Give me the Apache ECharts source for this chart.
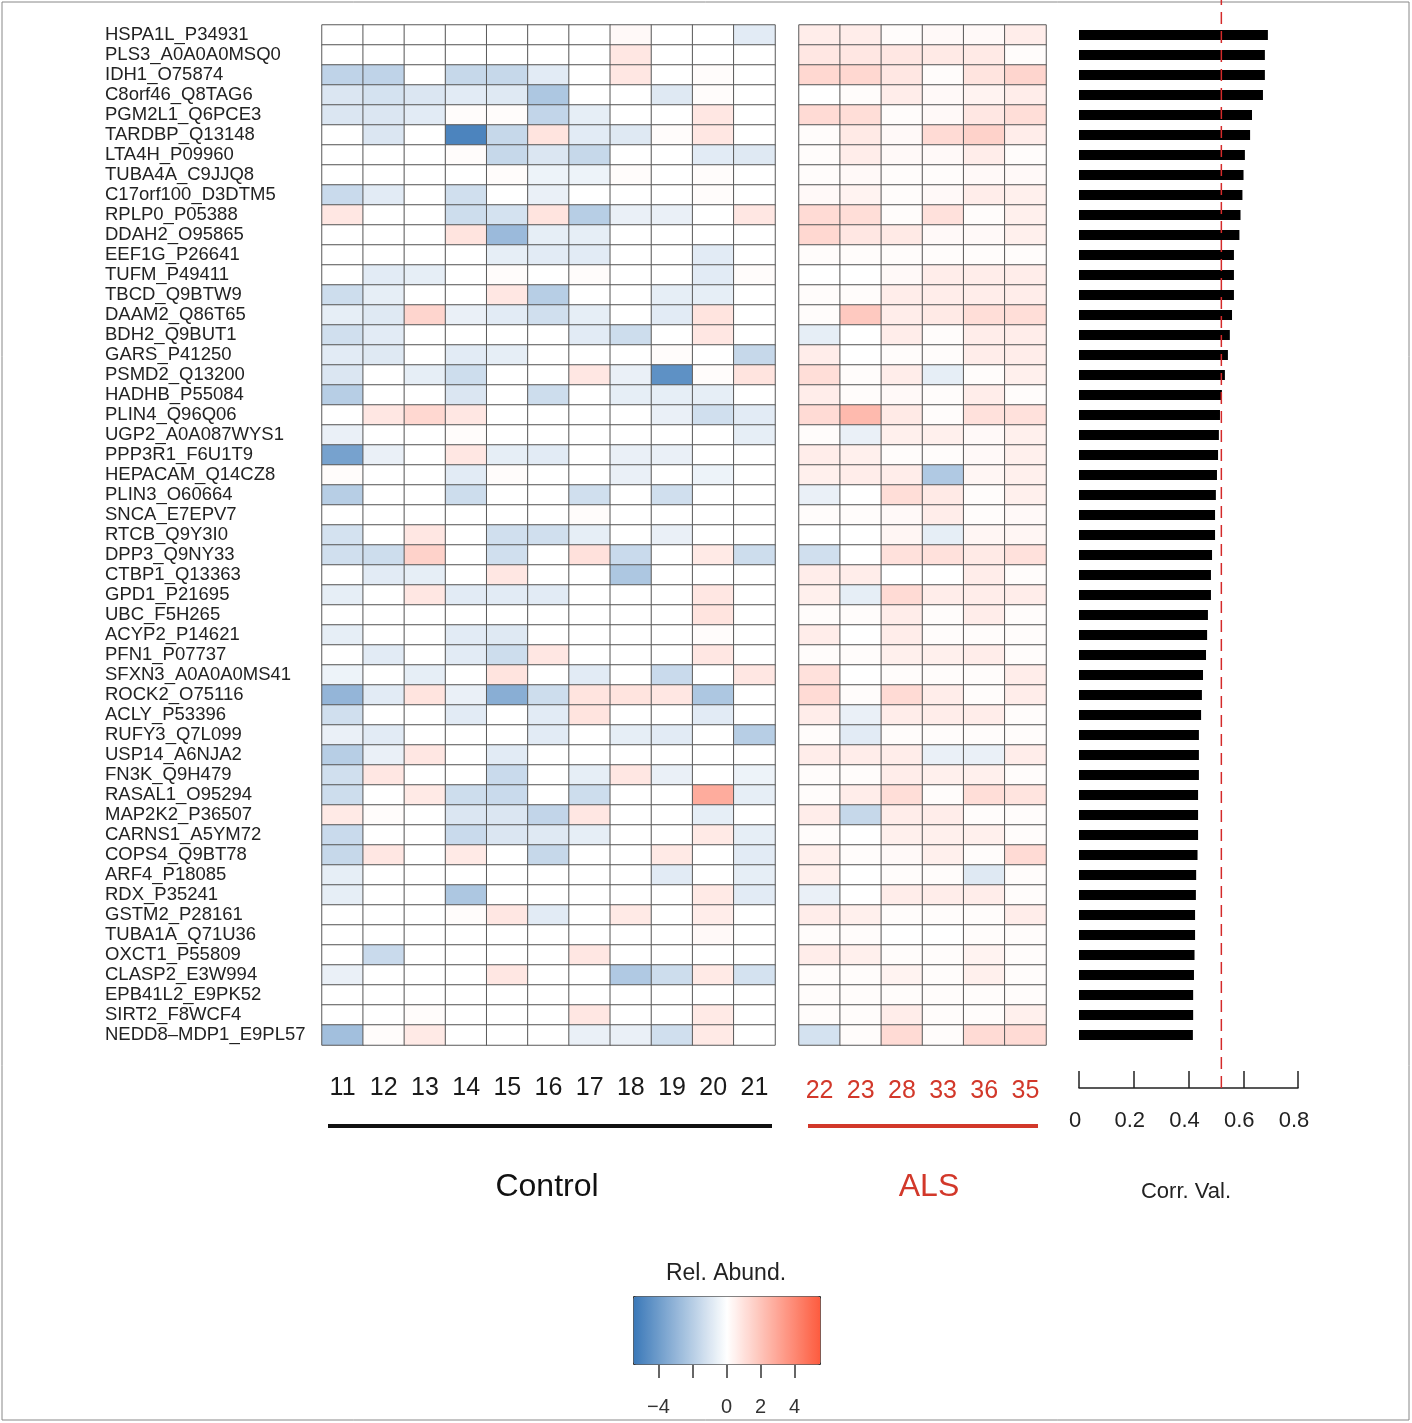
<!DOCTYPE html>
<html><head><meta charset="utf-8">
<script src="https://cdn.jsdelivr.net/npm/echarts@6/dist/echarts.min.js"></script>
<style>html,body{margin:0;padding:0;background:#fff}#c{width:1412px;height:1423px}</style>
</head><body><div id="c"></div><script>
const rowLabels = ['HSPA1L_P34931','PLS3_A0A0A0MSQ0','IDH1_O75874','C8orf46_Q8TAG6','PGM2L1_Q6PCE3','TARDBP_Q13148','LTA4H_P09960','TUBA4A_C9JJQ8','C17orf100_D3DTM5','RPLP0_P05388','DDAH2_O95865','EEF1G_P26641','TUFM_P49411','TBCD_Q9BTW9','DAAM2_Q86T65','BDH2_Q9BUT1','GARS_P41250','PSMD2_Q13200','HADHB_P55084','PLIN4_Q96Q06','UGP2_A0A087WYS1','PPP3R1_F6U1T9','HEPACAM_Q14CZ8','PLIN3_O60664','SNCA_E7EPV7','RTCB_Q9Y3I0','DPP3_Q9NY33','CTBP1_Q13363','GPD1_P21695','UBC_F5H265','ACYP2_P14621','PFN1_P07737','SFXN3_A0A0A0MS41','ROCK2_O75116','ACLY_P53396','RUFY3_Q7L099','USP14_A6NJA2','FN3K_Q9H479','RASAL1_O95294','MAP2K2_P36507','CARNS1_A5YM72','COPS4_Q9BT78','ARF4_P18085','RDX_P35241','GSTM2_P28161','TUBA1A_Q71U36','OXCT1_P55809','CLASP2_E3W994','EPB41L2_E9PK52','SIRT2_F8WCF4','NEDD8\u2013MDP1_E9PL57'];
const controlCols = ['11','12','13','14','15','16','17','18','19','20','21'];
const alsCols = ['22','23','28','33','36','35'];
const controlValues = [
[0,0,0,0,0,0,0,0.2,0,0,-0.8],
[0,0,0,0,0,0,0,0.8,0,0,0],
[-1.8,-1.8,0,-1.6,-1.6,-0.8,0,0.8,0,0.1,0],
[-1.0,-1.2,-1.0,-0.8,-0.9,-2.3,0,0,-0.9,0.1,0],
[-1.0,-1.0,-0.8,0.1,0.1,-1.7,-0.7,0,0,0.8,0],
[0,-1.0,0,-5.0,-1.6,0.9,-0.8,-0.9,0.1,0.8,0],
[0,0,0,0.1,-1.6,-1.0,-1.6,0,0,-0.8,-0.9],
[0,0,0,0,0.1,-0.5,-0.5,0.1,0,0.1,0],
[-1.5,-0.8,0,-1.3,0,-0.6,0,0,0,0.1,0],
[0.8,0,0,-1.4,-1.2,0.9,-2.0,-0.6,-0.6,0,0.8],
[0,0,0,0.9,-2.8,-0.7,-0.7,0,0,0,0],
[0,0,0,0,-0.7,-0.8,-0.8,0,0,-0.8,0],
[0,-0.8,-0.7,0,0.1,0,0.1,0,0,-0.8,0.1],
[-1.4,-0.7,0,0,0.8,-2.0,0,0,-0.7,-0.7,0],
[-0.7,-0.9,1.4,-0.6,-0.8,-1.3,-0.7,0,-0.8,0.9,0],
[-1.3,-0.8,0,0,0,0,-0.8,-1.4,0,0.8,0],
[-0.8,-0.9,0,-0.8,-0.7,0,0,0,0.1,0,-1.6],
[-1.0,0,-0.7,-1.4,0,0,0.8,-0.6,-4.5,0.1,0.9],
[-2.0,0,0,-1.0,0,-1.4,0,-0.7,-0.7,-0.7,0],
[0,0.8,1.3,0.8,0,0,0,0,-0.6,-1.3,-0.8],
[-0.6,0,0,0.1,0,0,0,0,0,0,-0.7],
[-3.8,-0.6,0,0.8,-0.7,-0.8,0,-0.6,-0.6,0,0],
[0.1,0,0,-0.8,0.1,0,0,-0.6,0,-0.5,0],
[-2.0,0,0,-1.4,0,0,-1.3,0,-1.3,0,0],
[0,0,0,0,0,0,0.1,0,0,0,0],
[-1.2,0,0.8,0,-1.3,-1.3,-0.7,0,-0.6,0,0],
[-1.3,-1.4,1.5,0,-1.3,0,1.0,-1.5,0,0.7,-1.4],
[0,-0.8,-0.7,0,0.8,0,0,-2.3,0,0,0],
[-0.7,0,0.8,-0.8,-0.8,-0.8,0,0,0,0.8,0],
[0,0,0,0,0,0,0,0,0,0.9,0],
[-0.7,0,0,-0.8,-0.9,0,0,0,0,0.1,0],
[0,-0.8,0,-0.8,-1.4,0.8,0,0,0,0.8,0],
[-0.5,0,-0.7,0,0.9,0,-0.8,0,-1.5,0,0.8],
[-3.0,-0.8,0.9,-0.6,-3.3,-1.4,0.9,0.9,0.8,-2.3,0],
[-1.3,0,0,-0.8,0,-0.8,0.9,0,0,-0.8,0],
[-0.6,-0.8,0,0,0,-0.8,0,-0.7,-0.8,0,-2.0],
[-2.0,-0.6,0.8,0,-0.8,0,0,0,0,0,0],
[-1.3,0.8,0,0,-1.5,0,-0.7,0.8,-0.6,0,-0.5],
[-1.4,0,0.7,-1.4,-1.5,0,-1.4,0,0,2.8,-0.7],
[0.7,0.1,0,-1.0,-1.0,-1.7,0.8,0,0,-0.7,0],
[-1.5,0,0,-1.5,-1.0,-0.9,-0.7,0,0,0.7,-0.7],
[-1.6,0.8,0,0.7,0,-1.6,0,0,0.7,0,-0.8],
[-0.7,0,0,0,0,0,0,0,-0.8,0,-0.7],
[-0.7,0,0,-2.3,0,0,0,0,0,0.7,-0.8],
[0,0,0,0.1,0.8,-0.8,0,0.7,0,0.6,0],
[0,0,0,0,0,0,0,0,0,0.2,0],
[0,-1.5,0,0,0,0,0.8,0,0,0,0],
[-0.6,0,0,0,0.8,0,0,-2.2,-1.4,0.7,-1.2],
[0,0,0,0,0,0,0,0,0,0,0],
[0,0,0.1,0,0,0,0.8,0,0,0.7,0],
[-2.6,0.1,0.7,0,0,0,-0.6,-0.6,-1.3,0.7,0]
];
const alsValues = [
[0.6,0.6,0.1,0.2,0.2,0.6],
[0.8,0.8,0.8,0.7,0.7,0.1],
[1.3,1.3,0.8,0.1,0.9,1.4],
[0,0.1,0.6,0.2,0.4,0.6],
[1.2,1.1,0.1,0.2,0.8,1.1],
[0.1,0.7,0.2,1.2,1.5,0.6],
[0.1,0.6,0.2,0.2,0.6,0.1],
[0.1,0.2,0.1,0.1,0.2,0.2],
[0.2,0.4,0.1,0.2,0.6,0.5],
[1.2,1.1,0.1,1.0,0.1,0.5],
[1.3,0.8,0.7,0.2,0.2,0.5],
[0.1,0.1,0.1,0.1,0.1,0.1],
[0,0,0.2,0.6,0.6,0.6],
[0.1,0.1,0.6,0.6,0.6,0.6],
[0.1,1.8,0.6,0.7,1.1,1.1],
[-0.7,0,0.6,0.1,0.6,0.6],
[0.6,0,0.1,0.1,0.6,0.6],
[1.1,0.1,0.6,-0.7,0.1,0.5],
[0.6,0.1,0.2,0.1,0.6,0.1],
[1.2,2.3,0.7,0.1,1.0,1.0],
[0.1,-0.6,0.5,0.5,0.2,0.5],
[0.6,0.5,0.1,0.1,0.2,0.5],
[0.5,0.6,0.6,-2.2,0.3,0.5],
[-0.6,0,1.1,0.7,0.1,0.5],
[0.1,0.1,0.2,0.6,0.1,0.2],
[0,0,0.3,-0.7,0.3,0.3],
[-1.3,0,1.0,1.0,0.7,1.0],
[0.6,0.6,0,0,0.6,0.1],
[0.5,-0.7,1.2,0.6,0.6,0.6],
[0.1,0.1,0.6,0.1,0.6,0.1],
[0.6,0,0.6,0.1,0.1,0.1],
[0.1,0.1,0.5,0.5,0.6,0.1],
[1.0,0,0.1,0.1,0.1,0.6],
[1.2,0.1,1.2,0.6,0.1,0.6],
[0.6,-0.6,0.6,0.6,0.6,0.1],
[0.1,-0.8,0.1,0.1,0.1,0.1],
[0.6,0.6,0.6,-0.6,-0.6,0.6],
[0.1,0.1,0.6,0.5,0.5,0.1],
[0.1,0.6,1.1,0.1,1.1,0.9],
[0.6,-1.6,0.6,0.6,0.1,0.1],
[0.1,0,0.5,0.5,0.5,0.1],
[0.5,0.1,0.2,0.5,0.1,1.2],
[0.5,0,0.1,0.1,-0.9,0.1],
[-0.6,0,0.6,0.6,0.6,0.1],
[0.6,0.5,0.1,0.1,0.1,0.6],
[0.1,0.1,0,0,0.1,0.1],
[0.6,0.5,0.1,0.1,0.4,0.1],
[0.1,0.1,0.4,0.1,0.5,0.1],
[0.1,0.1,0.1,0.1,0.1,0.1],
[0.1,0.1,0.6,0.1,0.1,0.5],
[-1.2,0.1,1.2,0.1,1.2,1.2]
];
const corrValues = [0.690,0.679,0.679,0.672,0.632,0.625,0.606,0.601,0.597,0.590,0.586,0.566,0.566,0.566,0.559,0.551,0.544,0.533,0.522,0.515,0.511,0.508,0.504,0.500,0.497,0.497,0.486,0.482,0.482,0.471,0.468,0.464,0.453,0.449,0.446,0.438,0.438,0.438,0.435,0.435,0.435,0.433,0.428,0.427,0.424,0.424,0.422,0.420,0.417,0.417,0.416];
const corrThreshold = 0.52;
const legendTickValues = [-4,-2,0,2,4];
const legendLabelValues = [-4,0,2,4];

function toCells(m){const out=[];m.forEach((row,r)=>row.forEach((v,c)=>out.push([c,r,v])));return out;}
const FONT = '"Liberation Sans", Arial, Helvetica, sans-serif';
const RED = '#d2382a';
const chart = echarts.init(document.getElementById('c'), null, {renderer:'canvas'});
const hideAxis = {axisLine:{show:false},axisTick:{show:false},splitLine:{show:false}};
chart.setOption({
  backgroundColor:'#fff',
  animation:false,
  textStyle:{fontFamily:FONT},
  grid:[
    {left:322,top:25,width:453,height:1020},
    {left:799,top:25,width:247,height:1020},
    {left:1079,top:25,width:219,height:1020},
    {left:1079,top:0,width:219,height:1088},
    {left:633,top:1296,width:187,height:68}
  ],
  xAxis:[
    Object.assign({type:'category',gridIndex:0,data:controlCols,axisLabel:{interval:0,fontSize:25,color:'#1a1a1a',margin:31,fontFamily:FONT}},hideAxis),
    Object.assign({type:'category',gridIndex:1,data:alsCols,axisLabel:{interval:0,fontSize:25,color:RED,margin:34,fontFamily:FONT}},hideAxis),
    {type:'value',gridIndex:2,min:0,max:0.8,interval:0.2,offset:43,
      axisLine:{show:true,lineStyle:{color:'#222',width:1.5}},
      axisTick:{show:true,inside:true,length:17,lineStyle:{color:'#222',width:1.5}},
      axisLabel:{fontSize:22,color:'#222',margin:22,fontFamily:FONT,padding:[0,8,0,0],formatter:v=>String(+v.toFixed(1))},
      splitLine:{show:false}},
    {type:'value',gridIndex:3,min:0,max:0.8,show:false},
    {type:'value',gridIndex:4,min:-5.5,max:5.5,
      axisLine:{show:false},
      axisTick:{show:true,length:14,customValues:legendTickValues,lineStyle:{color:'#666',width:2}},
      axisLabel:{show:true,customValues:legendLabelValues,margin:33,fontSize:20,color:'#333',fontFamily:FONT,formatter:v=>String(v).replace('-','\u2212')},
      splitLine:{show:false}}
  ],
  yAxis:[
    Object.assign({type:'category',gridIndex:0,data:rowLabels,inverse:true,axisLabel:{interval:0,align:'left',margin:217,fontSize:18.5,color:'#222',fontFamily:FONT}},hideAxis),
    {type:'category',gridIndex:1,data:rowLabels,inverse:true,show:false},
    {type:'category',gridIndex:2,data:rowLabels,inverse:true,show:false},
    {type:'value',gridIndex:3,min:0,max:1,show:false},
    {type:'value',gridIndex:4,min:0,max:1,show:false}
  ],
  visualMap:{type:'continuous',min:-5.5,max:5.5,seriesIndex:[0,1],orient:'horizontal',left:633,top:1296,
    itemWidth:68,itemHeight:187,calculable:false,padding:0,borderColor:'#333',borderWidth:1,
    inRange:{color:['#3a78b8','#ffffff','#fd5b3e']}},
  series:[
    {type:'heatmap',xAxisIndex:0,yAxisIndex:0,data:toCells(controlValues),itemStyle:{borderColor:'#5a5a5a',borderWidth:1},emphasis:{disabled:true},silent:true},
    {type:'heatmap',xAxisIndex:1,yAxisIndex:1,data:toCells(alsValues),itemStyle:{borderColor:'#5a5a5a',borderWidth:1},emphasis:{disabled:true},silent:true},
    {type:'bar',xAxisIndex:2,yAxisIndex:2,data:corrValues,barWidth:10,itemStyle:{color:'#000'},silent:true},
    {type:'line',xAxisIndex:3,yAxisIndex:3,data:[[corrThreshold,0],[corrThreshold,1]],symbol:'none',z:10,silent:true,
      lineStyle:{color:'#d42a2a',width:1.5,type:[12,7]}},
    {type:'scatter',xAxisIndex:4,yAxisIndex:4,data:[],silent:true}
  ],
  graphic:[
    {type:'rect',shape:{x:2,y:2,width:1407,height:1418},style:{fill:'none',stroke:'#888',lineWidth:1},silent:true},
    {type:'line',shape:{x1:328,y1:1126,x2:772,y2:1126},style:{stroke:'#111',lineWidth:4},silent:true},
    {type:'line',shape:{x1:808,y1:1126,x2:1038,y2:1126},style:{stroke:RED,lineWidth:4},silent:true},
    {type:'text',x:547,y:1187,style:{text:'Control',font:'32px '+FONT,fill:'#111',textAlign:'center',textVerticalAlign:'middle'},silent:true},
    {type:'text',x:929,y:1187,style:{text:'ALS',font:'32px '+FONT,fill:RED,textAlign:'center',textVerticalAlign:'middle'},silent:true},
    {type:'text',x:1186,y:1192,style:{text:'Corr. Val.',font:'22px '+FONT,fill:'#222',textAlign:'center',textVerticalAlign:'middle'},silent:true},
    {type:'text',x:726,y:1274,style:{text:'Rel. Abund.',font:'23px '+FONT,fill:'#222',textAlign:'center',textVerticalAlign:'middle'},silent:true}
  ]
});
</script></body></html>
